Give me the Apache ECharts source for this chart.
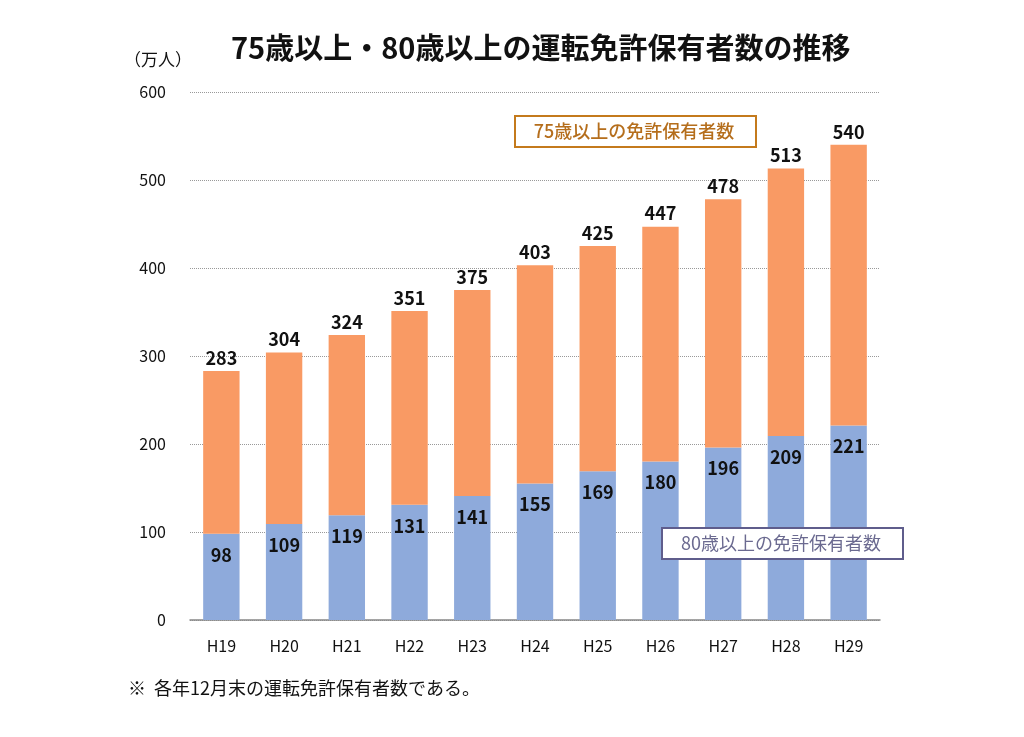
<!DOCTYPE html>
<html lang="ja">
  <head>
    <meta charset="utf-8" />
    <title>75歳以上・80歳以上の運転免許保有者数の推移</title>
    <script src="https://cdn.jsdelivr.net/npm/echarts@6/dist/echarts.min.js"></script>
  </head>
  <body style="margin:0; background:#fff;">
    <div id="main" style="width: 1024px; height: 737px;"></div>
    <script type="text/javascript">
      const years = ['H19', 'H20', 'H21', 'H22', 'H23', 'H24', 'H25', 'H26', 'H27', 'H28', 'H29']
      // 75歳以上（合計）
      const over75 = [283, 304, 324, 351, 375, 403, 425, 447, 478, 513, 540]
      // 80歳以上
      const over80 = [98, 109, 119, 131, 141, 155, 169, 180, 196, 209, 221]
      const yTicks = [0, 100, 200, 300, 400, 500, 600]

      // orange part is the rest on top of the blue bar
      const rest = over75.map((v, i) => v - over80[i])

      const font = '"Noto Sans CJK JP", sans-serif'
      const myChart = echarts.init(document.getElementById('main'))

      const option = {
        backgroundColor: '#fff',
        animation: false,
        textStyle: { fontFamily: font },
        title: {
          text: '75歳以上・80歳以上の運転免許保有者数の推移',
          left: 226,
          top: 28,
          textStyle: { fontFamily: font, fontSize: 29, fontWeight: 'bold', color: '#111' }
        },
        grid: { left: 190, right: 144, top: 92, bottom: 117 },
        xAxis: {
          type: 'category',
          data: years,
          axisTick: { show: false },
          axisLine: { lineStyle: { color: '#888', width: 1.5 } },
          axisLabel: { color: '#111', fontSize: 16, margin: 18, fontFamily: font }
        },
        yAxis: {
          type: 'value',
          min: yTicks[0],
          max: yTicks[yTicks.length - 1],
          interval: 100,
          axisLine: { show: false },
          axisTick: { show: false },
          axisLabel: { color: '#111', fontSize: 16, margin: 24, fontFamily: font },
          splitLine: { lineStyle: { color: '#999', type: [1, 1], width: 1 } }
        },
        series: [
          {
            name: '80歳以上の免許保有者数',
            type: 'bar',
            stack: 'total',
            data: over80,
            barWidth: '58%',
            itemStyle: { color: '#8eaadb' },
            label: {
              show: true,
              position: 'insideTop',
              distance: 12,
              color: '#111',
              fontWeight: 'bold',
              fontSize: 18,
              fontFamily: font
            }
          },
          {
            name: '75歳以上の免許保有者数',
            type: 'bar',
            stack: 'total',
            data: rest,
            barWidth: '58%',
            itemStyle: { color: '#f99a64' },
            label: {
              show: true,
              position: 'top',
              distance: 4,
              color: '#111',
              fontWeight: 'bold',
              fontSize: 18,
              fontFamily: font,
              formatter: (p) => over75[p.dataIndex]
            }
          }
        ],
        graphic: [
          {
            type: 'text',
            left: 124,
            top: 51,
            z: 100,
            style: { text: '（万人）', fontSize: 17, fill: '#111', fontFamily: font }
          },
          {
            type: 'rect',
            left: 514,
            top: 115,
            z: 100,
            shape: { width: 241, height: 31 },
            style: { fill: '#fff', stroke: '#c47a1c', lineWidth: 2 }
          },
          {
            type: 'text',
            x: 634,
            y: 131,
            z: 101,
            style: { text: '75歳以上の免許保有者数', fontSize: 18, fontWeight: 500, fill: '#b56e1c', fontFamily: font, align: 'center', verticalAlign: 'middle' }
          },
          {
            type: 'rect',
            left: 661,
            top: 527,
            z: 100,
            shape: { width: 241, height: 31 },
            style: { fill: '#fff', stroke: '#5f5d8c', lineWidth: 2 }
          },
          {
            type: 'text',
            x: 781,
            y: 543,
            z: 101,
            style: { text: '80歳以上の免許保有者数', fontSize: 18, fill: '#6b6a90', fontFamily: font, align: 'center', verticalAlign: 'middle' }
          },
          {
            type: 'text',
            left: 128,
            top: 679,
            z: 100,
            style: { text: '※  各年12月末の運転免許保有者数である。', fontSize: 18, fill: '#111', fontFamily: font }
          }
        ]
      }
      myChart.setOption(option)
    </script>
  </body>
</html>
